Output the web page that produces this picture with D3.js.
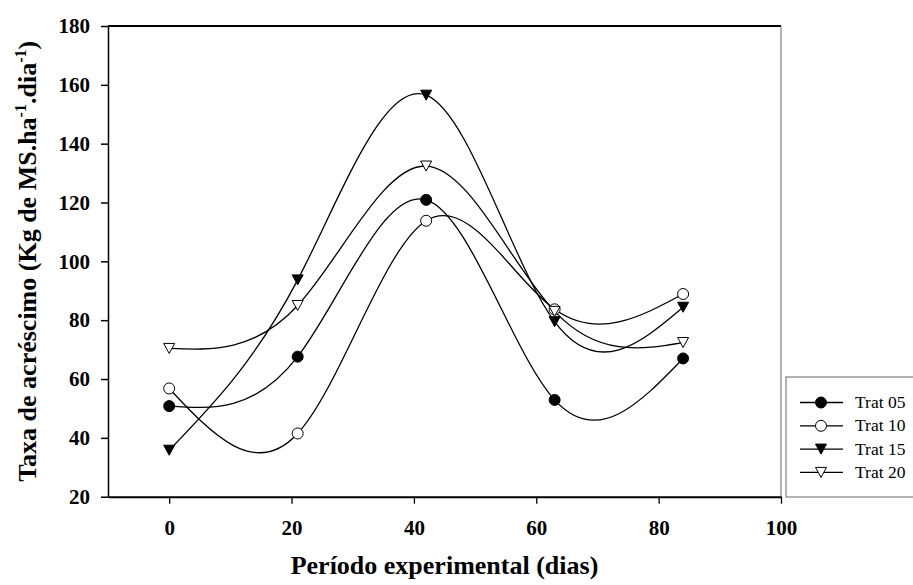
<!DOCTYPE html>
<html lang="pt">
<head>
    <meta charset="UTF-8">
    <title>Taxa de acréscimo</title>
    <script src="https://d3js.org/d3.v7.min.js"></script>
    <style>
        body {
            margin: 0;
            padding: 0;
            background: #fff;
        }
        svg {
            display: block;
            font-family: "Liberation Serif", "Times New Roman", serif;
        }
    </style>
</head>
<body>
    <script>
        // data
        const days = [0, 21, 42, 63, 84];
        const trat05 = [50.8, 67.6, 120.9, 52.9, 67.0];
        const trat10 = [56.8, 41.5, 113.8, 83.7, 88.9];
        const trat15 = [35.8, 93.7, 156.5, 79.5, 84.4];
        const trat20 = [70.4, 85.0, 132.4, 83.0, 72.4];
        const seriesNames = ["Trat 05", "Trat 10", "Trat 15", "Trat 20"];
        const xTicks = [0, 20, 40, 60, 80, 100];
        const yTicks = [20, 40, 60, 80, 100, 120, 140, 160, 180];

        const width = 913;
        const height = 585;

        const series = [
            { name: seriesNames[0], values: trat05, shape: "circle", fill: "#000" },
            { name: seriesNames[1], values: trat10, shape: "circle", fill: "#fff" },
            { name: seriesNames[2], values: trat15, shape: "triangle", fill: "#000" },
            { name: seriesNames[3], values: trat20, shape: "triangle", fill: "#fff" }
        ];

        const svg = d3.select("body")
            .append("svg")
            .attr("width", width)
            .attr("height", height);

        svg.append("rect")
            .attr("width", width)
            .attr("height", height)
            .attr("fill", "#fff");

        const x = d3.scaleLinear().domain([-10, 100]).range([108, 781]);
        const y = d3.scaleLinear().domain([20, 180]).range([496.7, 26]);

        // frame: top and right lines
        svg.append("line")
            .attr("x1", x(-10)).attr("x2", x(100))
            .attr("y1", y(180)).attr("y2", y(180))
            .attr("stroke", "#000")
            .attr("stroke-width", 2);

        svg.append("line")
            .attr("x1", x(100)).attr("x2", x(100))
            .attr("y1", y(180)).attr("y2", y(20))
            .attr("stroke", "#666")
            .attr("stroke-width", 1);

        // axes
        const xAxis = svg.append("g")
            .attr("transform", `translate(0,${y(20)})`)
            .call(d3.axisBottom(x).tickValues(xTicks).tickSize(7).tickSizeOuter(0).tickPadding(16));

        xAxis.select(".domain").attr("stroke-width", 2);
        xAxis.selectAll(".tick line").attr("stroke-width", 1.3);
        xAxis.selectAll(".tick text")
            .attr("font-family", "Liberation Serif, Times New Roman, serif")
            .attr("font-weight", "bold")
            .attr("font-size", 21)
            .attr("fill", "#000");

        const yAxis = svg.append("g")
            .attr("transform", `translate(${x(-10)},0)`)
            .call(d3.axisLeft(y).tickValues(yTicks).tickSize(7).tickSizeOuter(0).tickPadding(11));

        yAxis.select(".domain").attr("stroke-width", 1.5);
        yAxis.selectAll(".tick line").attr("stroke-width", 1.5);
        yAxis.selectAll(".tick text")
            .attr("font-family", "Liberation Serif, Times New Roman, serif")
            .attr("font-weight", "bold")
            .attr("font-size", 21)
            .attr("fill", "#000");

        // axis titles
        svg.append("text")
            .attr("x", (x(-10) + x(100)) / 2)
            .attr("y", 574)
            .attr("text-anchor", "middle")
            .attr("font-weight", "bold")
            .attr("font-size", 26)
            .text("Período experimental (dias)");

        const yTitle = svg.append("text")
            .attr("transform", `translate(36,${(y(20) + y(180)) / 2}) rotate(-90)`)
            .attr("text-anchor", "middle")
            .attr("font-weight", "bold")
            .attr("font-size", 26);

        yTitle.append("tspan").text("Taxa de acréscimo (Kg de MS.ha");
        yTitle.append("tspan").attr("dy", -10).attr("font-size", 16).text("-1");
        yTitle.append("tspan").attr("dy", 10).text(".dia");
        yTitle.append("tspan").attr("dy", -10).attr("font-size", 16).text("-1");
        yTitle.append("tspan").attr("dy", 10).text(")");

        // markers
        const trianglePath = "M-5.5,-5L5.5,-5L0,5Z";

        function drawMarker(g, s) {
            if (s.shape === "circle") {
                g.append("circle")
                    .attr("r", 5.5)
                    .attr("fill", s.fill)
                    .attr("stroke", "#000")
                    .attr("stroke-width", 1);
            } else {
                g.append("path")
                    .attr("d", trianglePath)
                    .attr("fill", s.fill)
                    .attr("stroke", "#000")
                    .attr("stroke-width", 1);
            }
        }

        const line = d3.line()
            .x((d, i) => x(days[i]))
            .y(d => y(d))
            .curve(d3.curveNatural);

        svg.selectAll(".series-line")
            .data(series)
            .enter()
            .append("path")
            .attr("class", "series-line")
            .attr("d", d => line(d.values))
            .attr("fill", "none")
            .attr("stroke", "#000")
            .attr("stroke-width", 1.3);

        series.forEach(s => {
            s.values.forEach((v, i) => {
                const g = svg.append("g")
                    .attr("transform", `translate(${x(days[i])},${y(v)})`);
                drawMarker(g, s);
            });
        });

        // legend
        const legend = svg.append("g").attr("transform", "translate(786,377)");

        legend.append("rect")
            .attr("width", 140)
            .attr("height", 120)
            .attr("fill", "#fff")
            .attr("stroke", "#666")
            .attr("stroke-width", 1);

        series.forEach((s, i) => {
            const row = legend.append("g")
                .attr("transform", `translate(0,${25.5 + i * 23.3})`);
            row.append("line")
                .attr("x1", 14).attr("x2", 57)
                .attr("stroke", "#000")
                .attr("stroke-width", 1.3);
            const m = row.append("g").attr("transform", "translate(35,0)");
            drawMarker(m, s);
            row.append("text")
                .attr("x", 69)
                .attr("y", 5.5)
                .attr("font-size", 17.5)
                .text(s.name);
        });
    </script>
</body>
</html>
